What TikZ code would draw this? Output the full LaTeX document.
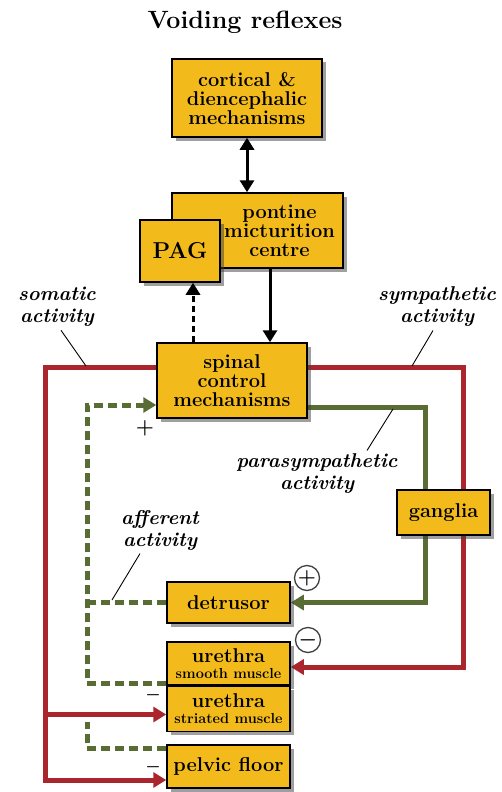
\documentclass[tikz,border=0pt]{standalone}
\usepackage{tikz}
\usetikzlibrary{shadows, positioning, arrows.meta, backgrounds}
\definecolor{boxyellow}{RGB}{242,186,26}
\definecolor{somred}{RGB}{170,38,44}
\definecolor{pargreen}{RGB}{88,108,52}
\tikzset{
  organ/.style={draw=black, line width=1.5pt, fill=boxyellow, inner sep=0pt, align=center,
    drop shadow={shadow xshift=3.5pt, shadow yshift=-3.5pt, fill=black!75},
    font=\fontsize{20}{19}\selectfont\bfseries},
  tag/.style={align=center, font=\fontsize{20}{22}\selectfont\bfseries\itshape},
  redline/.style={draw=somred, line width=5pt},
  greenline/.style={draw=pargreen, line width=5pt},
  affline/.style={draw=pargreen, line width=5pt, dash pattern=on 9pt off 5pt},
  blackline/.style={draw=black, line width=3pt},
  leader/.style={draw=black, line width=0.9pt},
  arrowend/.style={-{Triangle[length=13pt,width=15pt]}},
  sign/.style={circle, draw=black!75, fill=white, line width=1.3pt, minimum size=25pt, inner sep=0pt,
    font=\fontsize{20}{20}\selectfont\boldmath},
  bar/.style={font=\fontsize{19}{19}\selectfont\boldmath},
}
\begin{document}
\begin{tikzpicture}[x=1pt, y=-1pt]
  \useasboundingbox (0,0) rectangle (502,792);
  \node[font=\fontsize{25}{25}\selectfont\bfseries] (title) at (245,22) {Voiding reflexes};
  % brain
  \node[organ, minimum width=150pt, minimum height=78pt] (cortical) at (247,98) {cortical \&\\diencephalic\\mechanisms};
  \node[organ, minimum width=171pt, minimum height=75pt] (pontine) at (257.5,230.5) {};
  \node[align=center, font=\fontsize{20}{19}\selectfont\bfseries] (pontxt) at ([xshift=22pt]pontine.center) {pontine\\micturition\\centre};
  \node[organ, minimum width=80pt, minimum height=62pt, font=\fontsize{23}{23}\selectfont\bfseries] (pag) at (180,251) {PAG};
  % spinal cord and periphery
  \node[organ, minimum width=150pt, minimum height=75pt] (spinal) at (232,380.5) {spinal\\control\\mechanisms};
  \node[organ, minimum width=93pt, minimum height=45pt] (ganglia) at (443.5,512.5) {ganglia};
  \node[organ, minimum width=123pt, minimum height=41pt] (detrusor) at (228.5,602.5) {detrusor};
  \node[organ, minimum width=123pt, minimum height=43pt] (smooth) at (228.5,663.5) {urethra\\[-3pt]{\fontsize{14.5}{15}\selectfont smooth muscle}};
  \node[organ, minimum width=123pt, minimum height=45pt, below=0pt of smooth] (striated) {urethra\\[-3pt]{\fontsize{14.5}{15}\selectfont striated muscle}};
  \node[organ, minimum width=123pt, minimum height=43pt] (pelvic) at (228.5,766.5) {pelvic floor};
  % labels
  \node[tag] (somlab) at (57,307) {somatic\\activity};
  \node[tag] (symlab) at (437,307) {sympathetic\\activity};
  \node[tag] (parlab) at (317,474) {parasympathetic\\activity};
  \node[tag] (afflab) at (160,530) {afferent\\activity};

  \coordinate (somC) at (45,500);
  \coordinate (symC) at (463,500);
  \coordinate (parC) at (425,450);
  \coordinate (affC) at (87,500);
  \coordinate (affB) at (87,722);
  \coordinate (strIn) at ([yshift=-5.5pt]striated.west);
  \coordinate (smIn) at ([yshift=-3.5pt]smooth.east);
  \coordinate (ponOut) at ([xshift=12.5pt]pontine.south);
  \coordinate (spUp) at ([xshift=-39pt]spinal.north);
  \begin{scope}[on background layer]
    \draw[redline, arrowend] ([yshift=13.5pt]spinal.center) -| (somC) |- ([yshift=-13.5pt]pelvic.west);
    \draw[redline, arrowend] (strIn -| somC) -- (strIn);
    \draw[redline, arrowend] ([yshift=13.5pt]spinal.center) -| (symC) |- (smIn);
    \draw[greenline, arrowend] ([yshift=-26.5pt]spinal.center) -| (parC) |- (detrusor.east);
    \draw[affline, arrowend] ([yshift=-19.5pt]smooth.west) -| (affC) |- ([yshift=-24.5pt]spinal.west);
    \draw[affline] (detrusor.west) -- (detrusor.west -| affC);
    \draw[affline] ([yshift=18.5pt]pelvic.west) -| (affB);
  \end{scope}
  \draw[blackline, {Triangle[length=12pt,width=14pt]}-{Triangle[length=12pt,width=14pt]}] (cortical.south) -- (cortical.south |- pontine.north);
  \draw[blackline, -{Triangle[length=12pt,width=14pt]}] (ponOut) -- (ponOut |- spinal.north);
  \draw[blackline, dash pattern=on 6pt off 4pt, -{Triangle[length=12pt,width=14pt]}] (spUp) -- (spUp |- pag.south);
  % leader lines
  \draw[leader] ([xshift=4pt]somlab.south) -- (86,366);
  \draw[leader] ([xshift=-4pt]symlab.south) -- (412,366);
  \draw[leader] ([xshift=50pt]parlab.north) -- (393,409);
  \draw[leader] ([xshift=-20pt]afflab.south) -- (112,600);
  % signs
  \node[bar, font=\fontsize{21}{21}\selectfont\boldmath] (plus) at (145,428) {$+$};
  \node[bar] (minsm) at (153,695) {$-$};
  \node[bar] (minpf) at (153,767) {$-$};
  \node[sign] (excite) at (307,578) {$+$};
  \node[sign] (inhibit) at (308,640) {$-$};
\end{tikzpicture}
\end{document}
